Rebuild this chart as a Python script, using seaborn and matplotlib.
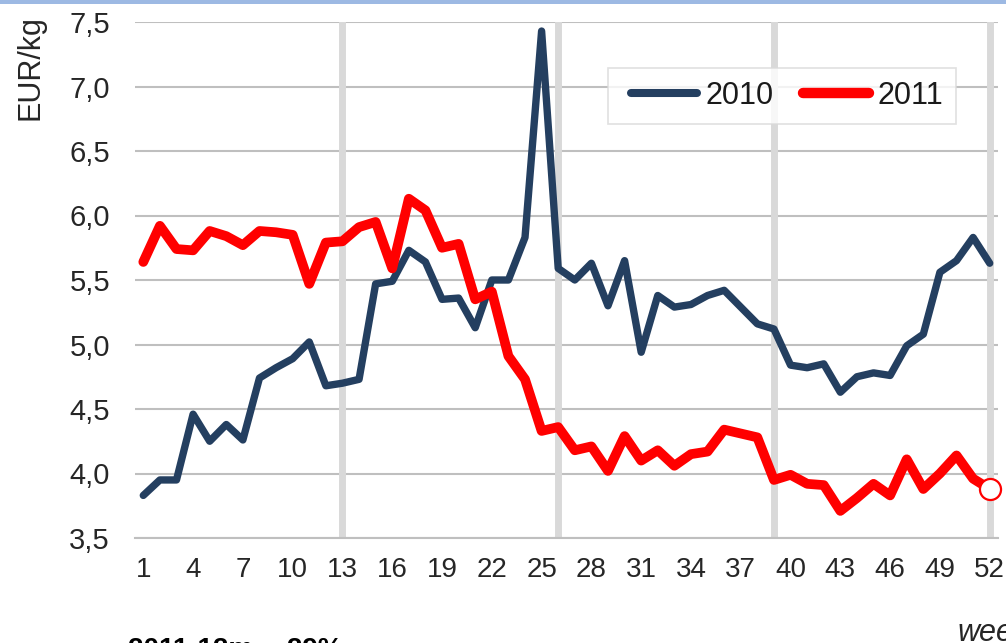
import numpy as np
import pandas as pd
import matplotlib
matplotlib.use("Agg")
import matplotlib.pyplot as plt
import seaborn as sns
from matplotlib.lines import Line2D
from matplotlib.legend_handler import HandlerLine2D
from matplotlib.patches import Rectangle
from matplotlib.ticker import FixedLocator, FuncFormatter

# Weekly prices, EUR/kg
weeks = list(range(1, 53))
price_2010 = [3.83, 3.95, 3.95, 4.46, 4.25, 4.38, 4.26, 4.74, 4.82, 4.89,
              5.02, 4.68, 4.70, 4.73, 5.47, 5.49, 5.73, 5.64, 5.35, 5.36,
              5.13, 5.50, 5.50, 5.83, 7.43, 5.59, 5.50, 5.63, 5.30, 5.65,
              4.94, 5.38, 5.29, 5.31, 5.38, 5.42, 5.29, 5.16, 5.12, 4.84,
              4.82, 4.85, 4.63, 4.75, 4.78, 4.76, 4.99, 5.08, 5.56, 5.65,
              5.83, 5.63]
price_2011 = [5.64, 5.92, 5.74, 5.73, 5.88, 5.84, 5.77, 5.88, 5.87, 5.85,
              5.47, 5.79, 5.80, 5.91, 5.95, 5.59, 6.13, 6.04, 5.75, 5.78,
              5.35, 5.41, 4.91, 4.73, 4.33, 4.36, 4.18, 4.21, 4.02, 4.29,
              4.10, 4.18, 4.06, 4.15, 4.17, 4.34, 4.31, 4.28, 3.95, 3.99,
              3.92, 3.91, 3.71, 3.81, 3.92, 3.83, 4.11, 3.88, 4.00, 4.14,
              3.96, 3.88]
years = ["2010", "2011"]
week_labels = [1, 4, 7, 10, 13, 16, 19, 22, 25, 28, 31, 34, 37, 40, 43, 46, 49, 52]
quarter_weeks = [13, 26, 39, 52]
y_ticks = [3.5, 4.0, 4.5, 5.0, 5.5, 6.0, 6.5, 7.0, 7.5]
footnote = "2011-12m:  -29%"
x_title = "week"
y_title = "EUR/kg"

sns.set_theme(style="white")
plt.rcParams["font.family"] = ["Liberation Sans", "DejaVu Sans"]

W, H = 1006, 643
fig = plt.figure(figsize=(W / 100, H / 100), dpi=100)
ax = fig.add_axes([135 / W, 1 - 538 / H, (998 - 135) / W, (538 - 22) / H])

df = pd.DataFrame({
    "week": weeks * 2,
    "price": price_2010 + price_2011,
    "year": [years[0]] * len(weeks) + [years[1]] * len(weeks),
})

navy = "#243F60"
red = "#FF0000"
text_col = "#262626"
styles = {"2010": dict(color=navy, lw=5.3), "2011": dict(color=red, lw=7.0)}

for yr in years:
    sub = df[df["year"] == yr]
    sns.lineplot(data=sub, x="week", y="price", ax=ax, legend=False,
                 color=styles[yr]["color"], linewidth=styles[yr]["lw"],
                 solid_joinstyle="round", solid_capstyle="round",
                 zorder=4, clip_on=False)

# open marker on the latest 2011 week
last = df[df["year"] == "2011"].iloc[-1]
sns.scatterplot(x=[last["week"]], y=[last["price"]], ax=ax, s=230,
                color="white", edgecolor=red, linewidth=1.6, zorder=6,
                clip_on=False, legend=False)

# quarter separators
for w in quarter_weeks:
    ax.axvline(w, color="#D9D9D9", lw=5, zorder=2)

ax.set_xlim(0.5, 52.5)
ax.set_ylim(3.5, 7.5)
ax.set_xlabel("")
ax.set_ylabel("")

ax.yaxis.set_major_locator(FixedLocator(y_ticks))
ax.yaxis.set_major_formatter(FuncFormatter(lambda v, p: f"{v:.1f}".replace(".", ",")))
ax.yaxis.grid(True, color="#BFBFBF", lw=1.5)
ax.xaxis.grid(False)
ax.set_axisbelow(True)

ax.xaxis.set_major_locator(FixedLocator(week_labels))
ax.xaxis.set_minor_locator(FixedLocator(np.arange(0.5, 53, 1)))
ax.tick_params(axis="x", which="major", length=0, pad=14, labelsize=20, labelcolor=text_col)
ax.tick_params(axis="x", which="minor", length=7, width=1.3, color="#BFBFBF", direction="out")
ax.tick_params(axis="y", which="major", length=0, pad=18, labelsize=21, labelcolor=text_col)

for side in ["top", "right", "left"]:
    ax.spines[side].set_visible(False)
ax.spines["bottom"].set_color("#BFBFBF")
ax.spines["bottom"].set_linewidth(1.5)

handles = [Line2D([0], [0], color=styles[yr]["color"], lw=styles[yr]["lw"] + 0.5,
                  solid_capstyle="round") for yr in years]
leg = ax.legend(handles, years, ncol=2, loc="upper left",
                bbox_to_anchor=((608 - 135) / 863, (538 - 68) / 516),
                borderaxespad=0, fontsize=22, frameon=True, fancybox=False,
                handlelength=2.48, handletextpad=0.3, columnspacing=0.62,
                borderpad=0.42,
                handler_map={Line2D: HandlerLine2D(xpad=0.33)})
leg.get_frame().set_edgecolor("#D9D9D9")
leg.get_frame().set_linewidth(1.2)
for t in leg.get_texts():
    t.set_color("#1A1A1A")
leg.set_zorder(7)

fig.text(30 / W, 1 - 68 / H, y_title, rotation=90, ha="center", va="center",
         fontsize=22, color=text_col)
fig.text(128 / W, 1 - 657 / H, footnote, ha="left", va="baseline",
         fontsize=20, fontweight="bold", color="black")
fig.text(957 / W, 1 - 641 / H, x_title, ha="left", va="baseline",
         fontsize=22, fontstyle="italic", color=text_col)

# thin border strip along the top edge
fig.add_artist(Rectangle((0, 1 - 4 / H), 1, 4 / H, transform=fig.transFigure,
                         facecolor="#9DB9E3", edgecolor="none", zorder=10))

fig.savefig("out.png", dpi=100)
